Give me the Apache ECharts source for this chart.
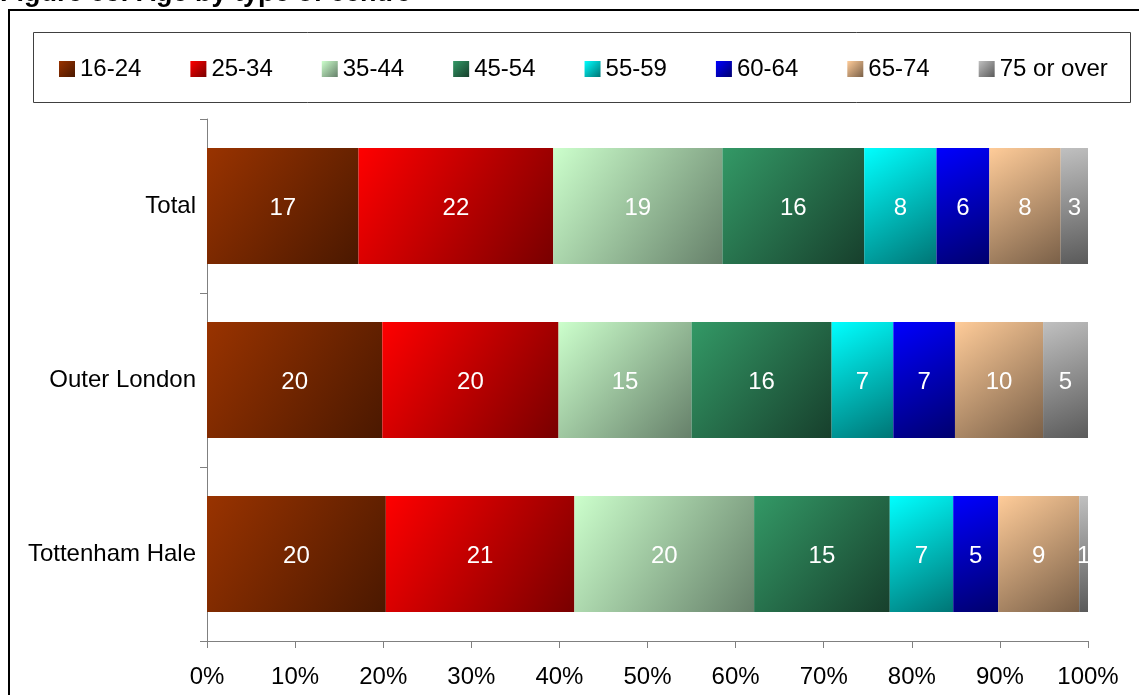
<!DOCTYPE html>
<html>
<head>
<meta charset="utf-8">
<script src="https://cdn.jsdelivr.net/npm/echarts@6/dist/echarts.min.js"></script>
<style>
html,body{margin:0;padding:0;background:#fff;}
#chart{width:1139px;height:695px;}
</style>
</head>
<body>
<div id="chart"></div>
<script>
var categories = ['Total', 'Outer London', 'Tottenham Hale'];
var seriesNames = ['16-24', '25-34', '35-44', '45-54', '55-59', '60-64', '65-74', '75 or over'];
var v1624 = [17.2, 19.9, 20.3];
var v2534 = [22.1, 20.0, 21.4];
var v3544 = [19.2, 15.1, 20.4];
var v4554 = [16.1, 15.9, 15.4];
var v5559 = [8.2, 7.0, 7.2];
var v6064 = [6.0, 7.0, 5.1];
var v6574 = [8.1, 10.0, 9.2];
var v75 = [3.1, 5.1, 1.0];
var xTicks = ['0%', '10%', '20%', '30%', '40%', '50%', '60%', '70%', '80%', '90%', '100%'];

var values = [v1624, v2534, v3544, v4554, v5559, v6064, v6574, v75];
var gradStops = [
  ['#993300', '#4a1800'],
  ['#ff0000', '#780000'],
  ['#ccffcc', '#66806a'],
  ['#339966', '#173f2c'],
  ['#00ffff', '#007575'],
  ['#0000ff', '#00006e'],
  ['#ffcc99', '#7a6048'],
  ['#c0c0c0', '#5a5a5a']
];
var FONT = '"Liberation Sans", Arial, sans-serif';

function grad(i) {
  return new echarts.graphic.LinearGradient(0, 0, 1, 1, [
    { offset: 0, color: gradStops[i][0] },
    { offset: 1, color: gradStops[i][1] }
  ]);
}

var series = seriesNames.map(function (name, i) {
  return {
    name: name,
    type: 'bar',
    stack: 'total',
    barWidth: 116,
    data: values[i],
    itemStyle: { color: grad(i) },
    label: {
      show: true,
      position: 'inside',
      color: '#ffffff',
      fontSize: 24,
      fontFamily: FONT,
      offset: [0, 2],
      formatter: function (p) { return Math.round(p.value); }
    },
    emphasis: { disabled: true }
  };
});

var chart = echarts.init(document.getElementById('chart'));
chart.setOption({
  animation: false,
  backgroundColor: '#ffffff',
  graphic: [
    {
      type: 'rect', z: -10,
      shape: { x: 9, y: 10, width: 1300, height: 900 },
      style: { fill: '#ffffff', stroke: '#000000', lineWidth: 2 }
    },
    {
      type: 'rect', z: -9,
      shape: { x: 33.5, y: 32.5, width: 1097, height: 70 },
      style: { fill: '#ffffff', stroke: '#404040', lineWidth: 1 }
    },
    {
      type: 'text', x: 0, y: -6,
      style: {
        text: 'Figure 63: Age by type of centre',
        font: 'bold 27px ' + FONT,
        fill: '#000000',
        verticalAlign: 'middle',
        align: 'left'
      }
    }
  ],
  legend: {
    data: seriesNames,
    left: 54,
    top: 52,
    itemWidth: 16,
    itemHeight: 16,
    itemGap: 49,
    icon: 'rect',
    selectedMode: false,
    textStyle: { fontSize: 24, fontFamily: FONT, color: '#000000' }
  },
  grid: { left: 207, right: 51, top: 119, bottom: 54, containLabel: false },
  xAxis: {
    type: 'value',
    min: 0, max: 100, interval: 10,
    axisLine: { show: true, lineStyle: { color: '#808080', width: 1 } },
    axisTick: { show: true, length: 7, lineStyle: { color: '#808080' } },
    splitLine: { show: false },
    axisLabel: {
      fontSize: 24, fontFamily: FONT, color: '#000000', margin: 24,
      formatter: function (v) { return xTicks[Math.round(v / 10)]; }
    }
  },
  yAxis: {
    type: 'category',
    data: categories,
    inverse: true,
    axisLine: { show: true, lineStyle: { color: '#808080', width: 1 } },
    axisTick: { show: true, length: 7, alignWithLabel: false, lineStyle: { color: '#808080' } },
    axisLabel: { fontSize: 24, fontFamily: FONT, color: '#000000', margin: 11 }
  },
  series: series
});
</script>
</body>
</html>
